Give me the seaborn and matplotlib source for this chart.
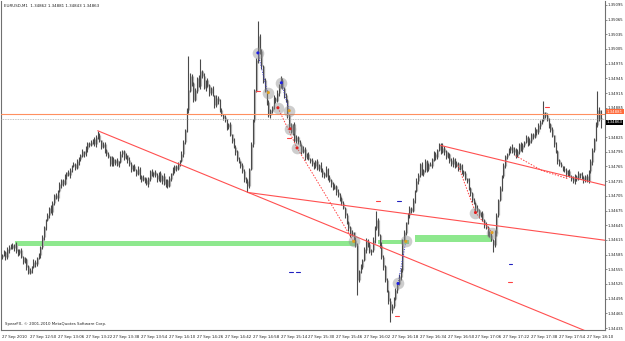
import numpy as np
import matplotlib
matplotlib.use("Agg")
import matplotlib.pyplot as plt
import seaborn as sns

sns.set_style("white")
plt.rcParams['font.family'] = ['DejaVu Sans']
plt.rcParams['font.stretch'] = 'condensed'

# ---------------- data: EURUSD M1 bars ----------------
close = [
1.34584,1.34590,1.34580,1.34595,1.34600,1.34604,1.34598,1.34605,1.34592,1.34588,
1.34594,1.34580,1.34570,1.34575,1.34560,1.34548,1.34553,1.34560,1.34570,1.34565,
1.34578,1.34584,1.34600,1.34620,1.34640,1.34655,1.34665,1.34680,1.34672,1.34690,
1.34706,1.34700,1.34715,1.34728,1.34736,1.34730,1.34745,1.34752,1.34748,1.34757,
1.34765,1.34770,1.34762,1.34775,1.34780,1.34787,1.34795,1.34790,1.34800,1.34812,
1.34808,1.34815,1.34820,1.34810,1.34825,1.34828,1.34818,1.34805,1.34810,1.34798,
1.34790,1.34785,1.34770,1.34780,1.34772,1.34777,1.34768,1.34775,1.34790,1.34795,
1.34782,1.34787,1.34778,1.34770,1.34760,1.34765,1.34757,1.34750,1.34760,1.34745,
1.34738,1.34742,1.34736,1.34730,1.34740,1.34755,1.34748,1.34752,1.34747,1.34740,
1.34750,1.34735,1.34745,1.34730,1.34736,1.34725,1.34740,1.34750,1.34757,1.34765,
1.34760,1.34770,1.34777,1.34790,1.34815,1.34838,1.34880,1.34920,1.34950,1.34935,
1.34900,1.34920,1.34945,1.34930,1.34960,1.34950,1.34925,1.34940,1.34930,1.34915,
1.34925,1.34910,1.34890,1.34905,1.34899,1.34880,1.34870,1.34865,1.34859,1.34845,
1.34850,1.34830,1.34818,1.34805,1.34795,1.34780,1.34775,1.34767,1.34755,1.34740,
1.34735,1.34726,1.34760,1.34810,1.34859,1.34920,1.34981,1.35030,1.35001,1.34970,
1.34940,1.34920,1.34895,1.34870,1.34879,1.34885,1.34905,1.34899,1.34915,1.34930,
1.34940,1.34925,1.34910,1.34899,1.34870,1.34848,1.34835,1.34850,1.34818,1.34825,
1.34815,1.34808,1.34795,1.34800,1.34785,1.34790,1.34780,1.34777,1.34770,1.34765,
1.34775,1.34760,1.34768,1.34757,1.34750,1.34745,1.34760,1.34742,1.34736,1.34730,
1.34720,1.34725,1.34712,1.34706,1.34700,1.34690,1.34680,1.34665,1.34650,1.34640,
1.34624,1.34630,1.34615,1.34604,1.34533,1.34550,1.34560,1.34574,1.34595,1.34614,
1.34605,1.34590,1.34594,1.34615,1.34640,1.34655,1.34625,1.34604,1.34580,1.34560,
1.34533,1.34510,1.34490,1.34471,1.34480,1.34495,1.34512,1.34525,1.34540,1.34553,
1.34614,1.34630,1.34650,1.34665,1.34680,1.34675,1.34696,1.34715,1.34735,1.34747,
1.34770,1.34750,1.34757,1.34775,1.34760,1.34770,1.34767,1.34780,1.34790,1.34785,
1.34798,1.34810,1.34795,1.34802,1.34795,1.34785,1.34790,1.34777,1.34770,1.34780,
1.34765,1.34772,1.34760,1.34767,1.34755,1.34750,1.34740,1.34736,1.34720,1.34710,
1.34696,1.34690,1.34680,1.34675,1.34665,1.34670,1.34655,1.34645,1.34640,1.34630,
1.34624,1.34615,1.34604,1.34630,1.34665,1.34696,1.34720,1.34745,1.34767,1.34785,
1.34790,1.34798,1.34805,1.34795,1.34800,1.34787,1.34795,1.34810,1.34800,1.34808,
1.34815,1.34825,1.34812,1.34818,1.34830,1.34825,1.34840,1.34835,1.34848,1.34855,
1.34860,1.34875,1.34869,1.34860,1.34850,1.34840,1.34828,1.34810,1.34795,1.34777,
1.34770,1.34765,1.34760,1.34757,1.34750,1.34755,1.34745,1.34740,1.34735,1.34745,
1.34740,1.34750,1.34747,1.34742,1.34738,1.34745,1.34736,1.34755,1.34775,1.34798,
1.34820,1.34850,1.34879,1.34862,1.34863]

open_ = [
1.34580,1.34584,1.34590,1.34580,1.34595,1.34600,1.34604,1.34598,1.34605,1.34592,
1.34588,1.34594,1.34580,1.34570,1.34575,1.34560,1.34548,1.34553,1.34560,1.34570,
1.34565,1.34578,1.34584,1.34600,1.34620,1.34640,1.34655,1.34665,1.34680,1.34672,
1.34690,1.34706,1.34700,1.34715,1.34728,1.34736,1.34730,1.34745,1.34752,1.34748,
1.34757,1.34765,1.34770,1.34762,1.34775,1.34780,1.34787,1.34795,1.34790,1.34800,
1.34812,1.34808,1.34815,1.34820,1.34810,1.34825,1.34828,1.34818,1.34805,1.34810,
1.34798,1.34790,1.34785,1.34770,1.34780,1.34772,1.34777,1.34768,1.34775,1.34790,
1.34795,1.34782,1.34787,1.34778,1.34770,1.34760,1.34765,1.34757,1.34750,1.34760,
1.34745,1.34738,1.34742,1.34736,1.34730,1.34740,1.34755,1.34748,1.34752,1.34747,
1.34740,1.34750,1.34735,1.34745,1.34730,1.34736,1.34725,1.34740,1.34750,1.34757,
1.34765,1.34760,1.34770,1.34777,1.34790,1.34815,1.34838,1.34880,1.34920,1.34950,
1.34935,1.34900,1.34920,1.34945,1.34930,1.34960,1.34950,1.34925,1.34940,1.34930,
1.34915,1.34925,1.34910,1.34890,1.34905,1.34899,1.34880,1.34870,1.34865,1.34859,
1.34845,1.34850,1.34830,1.34818,1.34805,1.34795,1.34780,1.34775,1.34767,1.34755,
1.34740,1.34735,1.34726,1.34760,1.34810,1.34859,1.34920,1.34981,1.35030,1.35001,
1.34970,1.34940,1.34920,1.34895,1.34870,1.34879,1.34885,1.34905,1.34899,1.34915,
1.34930,1.34940,1.34925,1.34910,1.34899,1.34870,1.34848,1.34835,1.34850,1.34818,
1.34825,1.34815,1.34808,1.34795,1.34800,1.34785,1.34790,1.34780,1.34777,1.34770,
1.34765,1.34775,1.34760,1.34768,1.34757,1.34750,1.34745,1.34760,1.34742,1.34736,
1.34730,1.34720,1.34725,1.34712,1.34706,1.34700,1.34690,1.34680,1.34665,1.34650,
1.34640,1.34624,1.34630,1.34615,1.34604,1.34533,1.34550,1.34560,1.34574,1.34595,
1.34614,1.34605,1.34590,1.34594,1.34615,1.34640,1.34655,1.34625,1.34604,1.34580,
1.34560,1.34533,1.34510,1.34490,1.34471,1.34480,1.34495,1.34512,1.34525,1.34540,
1.34553,1.34614,1.34630,1.34650,1.34665,1.34680,1.34675,1.34696,1.34715,1.34735,
1.34747,1.34770,1.34750,1.34757,1.34775,1.34760,1.34770,1.34767,1.34780,1.34790,
1.34785,1.34798,1.34810,1.34795,1.34802,1.34795,1.34785,1.34790,1.34777,1.34770,
1.34780,1.34765,1.34772,1.34760,1.34767,1.34755,1.34750,1.34740,1.34736,1.34720,
1.34710,1.34696,1.34690,1.34680,1.34675,1.34665,1.34670,1.34655,1.34645,1.34640,
1.34630,1.34624,1.34615,1.34604,1.34630,1.34665,1.34696,1.34720,1.34745,1.34767,
1.34785,1.34790,1.34798,1.34805,1.34795,1.34800,1.34787,1.34795,1.34810,1.34800,
1.34808,1.34815,1.34825,1.34812,1.34818,1.34830,1.34825,1.34840,1.34835,1.34848,
1.34855,1.34860,1.34875,1.34869,1.34860,1.34850,1.34840,1.34828,1.34810,1.34795,
1.34777,1.34770,1.34765,1.34760,1.34757,1.34750,1.34755,1.34745,1.34740,1.34735,
1.34745,1.34740,1.34750,1.34747,1.34742,1.34738,1.34745,1.34736,1.34755,1.34775,
1.34798,1.34820,1.34850,1.34879,1.34862]

high = [
1.34587,1.34595,1.34592,1.34601,1.34604,1.34607,1.34609,1.34607,1.34611,1.34596,
1.34597,1.34599,1.34582,1.34581,1.34579,1.34563,1.34558,1.34562,1.34576,1.34574,
1.34581,1.34589,1.34602,1.34626,1.34644,1.34658,1.34670,1.34682,1.34686,1.34694,
1.34709,1.34711,1.34717,1.34734,1.34740,1.34739,1.34750,1.34754,1.34758,1.34761,
1.34768,1.34775,1.34772,1.34781,1.34784,1.34790,1.34800,1.34797,1.34806,1.34816,
1.34815,1.34820,1.34822,1.34826,1.34829,1.34838,1.34833,1.34820,1.34816,1.34814,
1.34801,1.34795,1.34787,1.34786,1.34784,1.34780,1.34782,1.34777,1.34796,1.34799,
1.34798,1.34792,1.34789,1.34784,1.34774,1.34768,1.34770,1.34759,1.34766,1.34764,
1.34748,1.34747,1.34744,1.34742,1.34744,1.34758,1.34760,1.34754,1.34758,1.34751,
1.34753,1.34755,1.34747,1.34751,1.34740,1.34739,1.34745,1.34752,1.34763,1.34769,
1.34768,1.34775,1.34779,1.34796,1.34819,1.34841,1.34885,1.34991,1.34956,1.34954,
1.34938,1.34925,1.34947,1.34951,1.34985,1.34963,1.34955,1.34942,1.34946,1.34934,
1.34928,1.34930,1.34912,1.34911,1.34909,1.34902,1.34885,1.34872,1.34871,1.34863,
1.34853,1.34855,1.34832,1.34824,1.34809,1.34798,1.34785,1.34777,1.34773,1.34759,
1.34743,1.34740,1.34762,1.34816,1.34863,1.34923,1.34986,1.35062,1.35036,1.35005,
1.34973,1.34945,1.34922,1.34901,1.34883,1.34888,1.34910,1.34907,1.34921,1.34934,
1.34950,1.34945,1.34927,1.34916,1.34903,1.34873,1.34853,1.34852,1.34856,1.34829,
1.34828,1.34820,1.34810,1.34806,1.34804,1.34793,1.34795,1.34782,1.34783,1.34774,
1.34778,1.34780,1.34770,1.34774,1.34761,1.34753,1.34765,1.34762,1.34748,1.34740,
1.34733,1.34730,1.34727,1.34718,1.34710,1.34703,1.34695,1.34682,1.34671,1.34654,
1.34643,1.34635,1.34632,1.34621,1.34608,1.34553,1.34565,1.34576,1.34601,1.34618,
1.34617,1.34610,1.34596,1.34621,1.34644,1.34675,1.34660,1.34627,1.34610,1.34584,
1.34563,1.34538,1.34512,1.34496,1.34484,1.34498,1.34517,1.34527,1.34546,1.34557,
1.34617,1.34635,1.34652,1.34671,1.34684,1.34683,1.34701,1.34717,1.34741,1.34751,
1.34773,1.34775,1.34759,1.34781,1.34779,1.34773,1.34775,1.34782,1.34796,1.34794,
1.34801,1.34812,1.34812,1.34812,1.34806,1.34798,1.34795,1.34792,1.34783,1.34784,
1.34783,1.34777,1.34774,1.34773,1.34771,1.34758,1.34755,1.34742,1.34742,1.34724,
1.34713,1.34701,1.34692,1.34686,1.34679,1.34673,1.34675,1.34657,1.34651,1.34644,
1.34633,1.34629,1.34617,1.34636,1.34669,1.34699,1.34725,1.34747,1.34773,1.34789,
1.34793,1.34803,1.34807,1.34811,1.34804,1.34803,1.34800,1.34812,1.34816,1.34812,
1.34818,1.34830,1.34827,1.34824,1.34834,1.34833,1.34845,1.34842,1.34854,1.34859,
1.34863,1.34899,1.34877,1.34875,1.34864,1.34853,1.34845,1.34830,1.34816,1.34799,
1.34780,1.34775,1.34767,1.34766,1.34761,1.34758,1.34760,1.34747,1.34746,1.34749,
1.34748,1.34755,1.34752,1.34753,1.34746,1.34748,1.34750,1.34757,1.34781,1.34802,
1.34823,1.34855,1.34920,1.34886,1.34881]

low = [
1.34576,1.34582,1.34575,1.34577,1.34589,1.34596,1.34596,1.34593,1.34589,1.34582,
1.34584,1.34578,1.34565,1.34567,1.34554,1.34545,1.34546,1.34548,1.34557,1.34559,
1.34561,1.34576,1.34579,1.34597,1.34614,1.34636,1.34653,1.34660,1.34669,1.34666,
1.34686,1.34698,1.34695,1.34712,1.34722,1.34726,1.34728,1.34740,1.34745,1.34742,
1.34753,1.34763,1.34757,1.34759,1.34769,1.34776,1.34785,1.34785,1.34787,1.34794,
1.34804,1.34806,1.34810,1.34807,1.34804,1.34821,1.34816,1.34800,1.34802,1.34792,
1.34786,1.34783,1.34765,1.34767,1.34766,1.34768,1.34766,1.34763,1.34772,1.34784,
1.34778,1.34780,1.34773,1.34767,1.34754,1.34756,1.34755,1.34745,1.34747,1.34739,
1.34734,1.34736,1.34731,1.34727,1.34724,1.34736,1.34746,1.34743,1.34744,1.34734,
1.34736,1.34733,1.34730,1.34727,1.34724,1.34721,1.34723,1.34735,1.34747,1.34751,
1.34756,1.34758,1.34765,1.34774,1.34784,1.34811,1.34836,1.34875,1.34917,1.34929,
1.34896,1.34898,1.34915,1.34927,1.34924,1.34946,1.34923,1.34920,1.34927,1.34909,
1.34911,1.34908,1.34885,1.34887,1.34893,1.34876,1.34868,1.34860,1.34856,1.34839,
1.34841,1.34828,1.34813,1.34802,1.34789,1.34776,1.34773,1.34762,1.34752,1.34734,
1.34731,1.34712,1.34721,1.34757,1.34804,1.34855,1.34918,1.34976,1.34995,1.34964,
1.34936,1.34918,1.34890,1.34867,1.34864,1.34875,1.34883,1.34894,1.34896,1.34909,
1.34926,1.34923,1.34905,1.34896,1.34864,1.34844,1.34833,1.34830,1.34815,1.34812,
1.34811,1.34806,1.34790,1.34792,1.34779,1.34781,1.34778,1.34772,1.34767,1.34759,
1.34761,1.34758,1.34755,1.34754,1.34744,1.34741,1.34743,1.34737,1.34733,1.34724,
1.34716,1.34718,1.34707,1.34703,1.34694,1.34686,1.34678,1.34660,1.34647,1.34634,
1.34620,1.34622,1.34610,1.34601,1.34502,1.34529,1.34548,1.34555,1.34571,1.34589,
1.34601,1.34588,1.34585,1.34591,1.34609,1.34636,1.34623,1.34599,1.34577,1.34554,
1.34529,1.34508,1.34485,1.34447,1.34465,1.34476,1.34493,1.34507,1.34522,1.34534,
1.34549,1.34612,1.34625,1.34647,1.34659,1.34671,1.34673,1.34691,1.34712,1.34729,
1.34743,1.34748,1.34745,1.34754,1.34754,1.34756,1.34765,1.34762,1.34777,1.34779,
1.34781,1.34796,1.34790,1.34792,1.34789,1.34781,1.34783,1.34772,1.34767,1.34764,
1.34761,1.34763,1.34755,1.34757,1.34749,1.34746,1.34738,1.34731,1.34717,1.34704,
1.34692,1.34688,1.34675,1.34672,1.34659,1.34661,1.34653,1.34640,1.34637,1.34624,
1.34620,1.34613,1.34590,1.34601,1.34624,1.34661,1.34694,1.34715,1.34742,1.34761,
1.34781,1.34788,1.34793,1.34792,1.34789,1.34783,1.34785,1.34790,1.34797,1.34794,
1.34804,1.34813,1.34807,1.34809,1.34812,1.34821,1.34823,1.34830,1.34832,1.34842,
1.34851,1.34858,1.34864,1.34857,1.34844,1.34836,1.34826,1.34805,1.34792,1.34771,
1.34766,1.34763,1.34755,1.34754,1.34744,1.34746,1.34743,1.34735,1.34732,1.34729,
1.34736,1.34738,1.34742,1.34739,1.34732,1.34734,1.34734,1.34731,1.34752,1.34769,
1.34794,1.34818,1.34845,1.34858,1.34843]

time_labels = ["27 Sep 2010", "27 Sep 12:50", "27 Sep 13:06", "27 Sep 13:22",
               "27 Sep 13:38", "27 Sep 13:54", "27 Sep 14:10", "27 Sep 14:26",
               "27 Sep 14:42", "27 Sep 14:58", "27 Sep 15:14", "27 Sep 15:30",
               "27 Sep 15:46", "27 Sep 16:02", "27 Sep 16:18", "27 Sep 16:34",
               "27 Sep 16:50", "27 Sep 17:06", "27 Sep 17:22", "27 Sep 17:38",
               "27 Sep 17:54", "27 Sep 18:10"]
time_label_bars = [0, 16, 32, 48, 64, 80, 96, 112, 128, 144, 160, 176, 192,
                   208, 224, 240, 256, 272, 288, 304, 320, 336]

price_ticks = [1.34435, 1.34465, 1.34495, 1.34525, 1.34555, 1.34585, 1.34615,
               1.34645, 1.34675, 1.34705, 1.34735, 1.34765, 1.34795, 1.34825,
               1.34855, 1.34885, 1.34915, 1.34945, 1.34975, 1.35005, 1.35035,
               1.35065, 1.35095]

# trendlines: (bar0, bar1) and (price0, price1)
trend_bars = [[55, 347], [141, 347], [252, 347]]
trend_prices = [[1.34838, 1.34412], [1.34712, 1.34614], [1.34808, 1.34726]]

# support zones: bar start, bar end, price low, price high
zone_start = [7.5, 216, 237]
zone_end = [202.8, 234, 281.5]
zone_lo = [1.34602, 1.34606, 1.34610]
zone_hi = [1.34612, 1.34614, 1.34626]

# pattern points (bar, price, colour of centre)
pt_bars = [147, 153, 160.5, 158.5, 165, 165.5, 169.5, 202, 227.5, 232, 272, 281.5]
pt_prices = [1.34997, 1.34916, 1.34936, 1.34885, 1.34879, 1.34842, 1.34803,
             1.34612, 1.34526, 1.34612, 1.34671, 1.34630]
pt_colors = ["#2020e0", "#e0a020", "#2020e0", "#e02020", "#e0a020", "#e02020",
             "#e02020", "#e0a020", "#2020e0", "#e0a020", "#e02020", "#e0a020"]

blue_dot_seg = [([147, 152.5], [1.34997, 1.34916]), ([160.5, 165], [1.34936, 1.34879]),
                ([227.5, 232], [1.34526, 1.34612])]
red_dot_seg = [([158.5, 169.5, 202], [1.34885, 1.34803, 1.34612]),
               ([262, 272, 281.5], [1.34767, 1.34671, 1.34630]),
               ([295, 310, 325], [1.34787, 1.34757, 1.34740])]

red_dash = [(147, 1.34920), (165, 1.34824), (227, 1.34460), (313, 1.34887),
            (216, 1.34694), (292, 1.34530)]
blue_dash = [(166, 1.34550), (170, 1.34550), (228, 1.34694), (292, 1.34565)]

bid_price = 1.34863
ask_line_price = 1.34873
ask_label = "1.34881"
title = "EURUSD,M1  1.34862 1.34881 1.34843 1.34863"

# ---------------- drawing ----------------
W, H = 625, 341
FS = 3.2
FSY = 3.1
fig = plt.figure(figsize=(W / 100, H / 100), dpi=100)
ax = fig.add_axes([1 / W, 11 / H, 604 / W, 329 / H])
ax.set_facecolor("white")

x = np.arange(len(close))
o = np.array(open_); c = np.array(close); h = np.array(high); l = np.array(low)

# zones (behind)
for s, e, lo, hi in zip(zone_start, zone_end, zone_lo, zone_hi):
    ax.fill_between([s, e], lo, hi, color="#8ee88e", lw=0, zorder=1)

# bars
ax.vlines(x, l, h, color="#4a4a4a", lw=0.8, zorder=3)
ax.vlines(x + 0.5, np.minimum(o, c), np.maximum(o, c) + 0.000008,
          color="#b4b4b4", lw=0.9, zorder=2)

# trend lines
for tb, tp in zip(trend_bars, trend_prices):
    sns.lineplot(x=tb, y=tp, ax=ax, color="#ff5050", lw=0.8, sort=False,
                 estimator=None, zorder=4)

# horizontal price lines
ax.axhline(ask_line_price, color="#ff9060", lw=0.8, zorder=4)
ax.axhline(bid_price, color="#b0b0b0", lw=0.6, ls=(0, (1, 1)), zorder=4)

# dotted pattern lines
for xs, ys in blue_dot_seg:
    ax.plot(xs, ys, color="#3030d0", lw=0.7, ls=(0, (1, 1.5)), zorder=5)
for xs, ys in red_dot_seg:
    ax.plot(xs, ys, color="#ff4040", lw=0.7, ls=(0, (1.5, 1.5)), zorder=5)

# pattern points
ax.scatter(pt_bars, pt_prices, s=70, color="#909090", alpha=0.45, lw=0, zorder=6)
ax.scatter(pt_bars, pt_prices, s=5, color=pt_colors, lw=0, zorder=7)

for bx, py in red_dash:
    ax.plot([bx - 1.2, bx + 1.2], [py, py], color="#ff4040", lw=0.8, zorder=6)
for bx, py in blue_dash:
    ax.plot([bx - 1.0, bx + 1.0], [py, py], color="#2020c0", lw=0.8, zorder=6)

ax.set_xlim(-0.57, 346.4)
ax.set_ylim(1.34431, 1.35103)

ax.yaxis.tick_right()
ax.set_yticks(price_ticks)
ax.set_yticklabels([f"{p:.5f}" for p in price_ticks])
ax.set_xticks(time_label_bars)
ax.set_xticklabels(time_labels, ha="left")
ax.tick_params(axis="x", length=2, width=0.5, color="#606060",
               labelsize=FS, labelcolor="#202020", pad=1.5)
ax.tick_params(axis="y", length=1.5, width=0.5, color="#606060",
               labelsize=FSY, labelcolor="#202020", pad=0.6)
for sp in ax.spines.values():
    sp.set_color("#707070")
    sp.set_linewidth(0.8)
ax.spines["top"].set_visible(False)
ax.set_xlabel(""); ax.set_ylabel("")

# price labels on the right axis
ax.text(1.003, ask_line_price + 0.00004, ask_label, transform=ax.get_yaxis_transform(),
        fontsize=FSY, color="white", va="center", ha="left",
        bbox=dict(boxstyle="square,pad=0.15", fc="#ff6a3a", ec="none"), zorder=10,
        clip_on=False)
ax.text(1.003, bid_price - 0.00008, f"{bid_price:.5f}", transform=ax.get_yaxis_transform(),
        fontsize=FSY, color="white", va="center", ha="left",
        bbox=dict(boxstyle="square,pad=0.15", fc="black", ec="none"), zorder=10,
        clip_on=False)

ax.text(3 / 604, 1 - 3 / 329, title, transform=ax.transAxes, fontsize=FS,
        va="top", ha="left", color="#202020")
ax.text(4 / 604, 4 / 329, "SpearFX, \u00a9 2001-2010 MetaQuotes Software Corp.",
        transform=ax.transAxes, fontsize=FS, va="bottom", ha="left", color="#202020")

fig.savefig("out.png", dpi=100)
